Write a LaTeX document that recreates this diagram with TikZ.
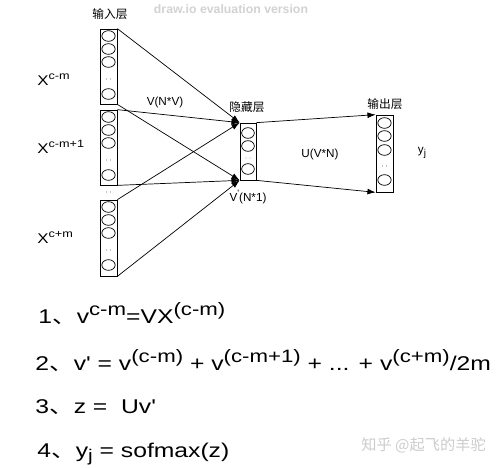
\documentclass[tikz,border=0pt]{standalone}
\usepackage{fontspec}
\setmainfont{Liberation Sans}
\newfontfamily\cjk{Noto Sans CJK SC}
\usetikzlibrary{arrows.meta}
\newcommand{\hi}[2][0.8]{\raisebox{0.75ex}{\scalebox{#1}{#2}}}
\newcommand{\lo}[1]{\raisebox{-0.45ex}{\scalebox{0.85}{#1}}}
\newcommand{\wide}[2][1.24]{\scalebox{#1}[1]{#2}}
\newcommand{\dun}{{\cjk 、}}
\newcommand{\pr}{\textquotesingle}
\tikzset{
  layer/.style={draw, minimum width=0.51cm, inner sep=0pt},
  lbl/.style={font=\fontsize{10}{12}\selectfont},
  cnlbl/.style={font=\cjk\fontsize{10}{12}\selectfont},
  xlbl/.style={anchor=base west, inner sep=0pt, font=\fontsize{12}{14}\selectfont},
  eq/.style={anchor=base west, inner sep=0pt, font=\fontsize{17}{20}\selectfont},
  link/.style={-{Latex[length=7pt,width=5pt]}}
}
\begin{document}
\begin{tikzpicture}[x=0.03cm,y=-0.03cm,line width=0.6pt]
\useasboundingbox (0,0) rectangle (503,467);
\node[gray!35, font=\fontsize{10.5}{12}\selectfont\bfseries] (wm) at (231,9) {draw.io evaluation version};
\node[cnlbl] (tin) at (110,14) {输入层};
\node[cnlbl] (thid) at (247,107) {隐藏层};
\node[cnlbl] (tout) at (385,104) {输出层};
\node[layer, minimum height=2.25cm] (in1) at (108.5,66.5) {};
\node[layer, minimum height=2.25cm] (in2) at (108.5,147.5) {};
\node[layer, minimum height=2.28cm] (in3) at (108.5,238) {};
\node[layer, minimum width=0.48cm, minimum height=1.71cm] (hid) at (248,151.5) {};
\node[layer, minimum height=2.31cm] (out) at (384.5,153.5) {};
\foreach \t in {29,110,200}{
  \foreach \d in {7,20,33,65}
    \draw (108.5,\t+\d) ellipse (0.2cm and 0.16cm);
  \fill (106.5,\t+50) circle (0.4pt) (110.5,\t+50) circle (0.4pt);
}
\fill (106.5,192) circle (0.4pt) (110.5,192) circle (0.4pt);
\foreach \y in {133,146,169}
  \draw (248,\y) ellipse (0.19cm and 0.16cm);
\fill (246,158) circle (0.4pt) (250,158) circle (0.4pt);
\foreach \y in {123,136,150,180}
  \draw (384.5,\y) ellipse (0.2cm and 0.16cm);
\fill (382.5,166) circle (0.4pt) (386.5,166) circle (0.4pt);
\foreach \s in {in1,in2,in3}{
  \draw[link] (\s.north east) -- (hid.north west);
  \draw[link] (\s.south east) -- (hid.south west);
}
\draw[link] (hid.north east) -- (out.north west);
\draw[link] (hid.south east) -- (out.south west);
\node[xlbl] (x1) at (37,85) {\wide[1.2]{X\hi[0.75]{c-m}}};
\node[xlbl] (x2) at (37,153) {\wide[1.2]{X\hi[0.75]{c-m+1}}};
\node[xlbl] (x3) at (37,243) {\wide[1.2]{X\hi[0.75]{c+m}}};
\node[lbl] (wv) at (165,102) {V(N*V)};
\node[lbl] (wu) at (320,154) {U(V*N)};
\node[lbl] (wh) at (248,197) {V\hi{\pr}(N*1)};
\node[lbl] (yj) at (422,153) {y\lo{j}};
\node[eq] (e1) at (38,323) {\wide{1\dun v\hi[0.9]{c-m}=VX\hi[0.9]{(c-m)}}};
\node[eq] (e2) at (35,370) {\wide{2\dun v\pr{} = v\hi[0.9]{(c-m)} + v\hi[0.9]{(c-m+1)} + ... + v\hi[0.9]{(c+m)}/2m}};
\node[eq] (e3) at (35,413) {\wide{3\dun z =\ \ Uv\pr}};
\node[eq] (e4) at (37,457) {\wide{4\dun y\lo{j} = sofmax(z)}};
\node[gray!40, anchor=base east, font=\cjk\fontsize{13}{15}\selectfont] (zh) at (490,450) {知乎 @起飞的羊驼};
\end{tikzpicture}
\end{document}
